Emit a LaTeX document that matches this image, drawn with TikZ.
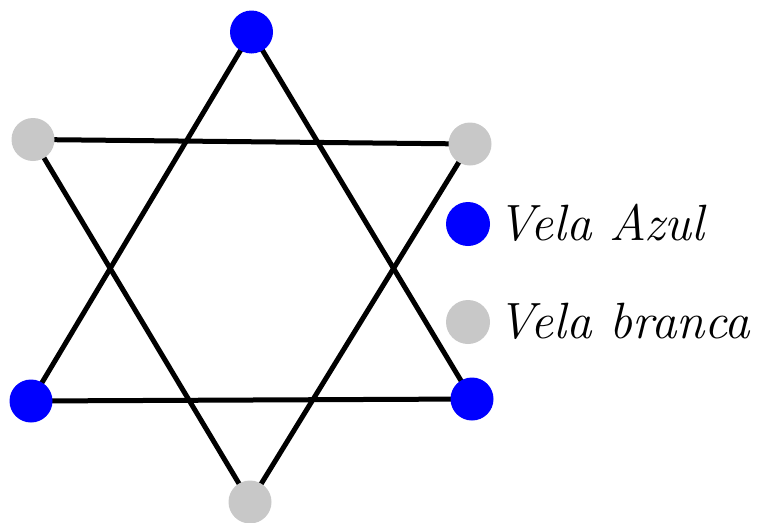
\documentclass[tikz,border=0pt]{standalone}
\definecolor{velablue}{RGB}{0,0,255}
\definecolor{velagray}{RGB}{200,200,200}
\begin{document}
\begin{tikzpicture}[x=1pt,y=-1pt,
  dot/.style={circle,inner sep=0pt,minimum size=43pt},
  bluedot/.style={dot,fill=velablue},
  graydot/.style={dot,fill=velagray},
  edge/.style={line width=5pt,black},
  legend/.style={anchor=base west,inner sep=0pt,font=\fontsize{51}{58}\selectfont\itshape}]
\useasboundingbox (0,0) rectangle (759,522);
\coordinate (t) at (251.5,32);
\coordinate (bl) at (31,401);
\coordinate (br) at (472,399);
\coordinate (gl) at (33,139.5);
\coordinate (gr) at (470,144);
\coordinate (gb) at (250,502);
\draw[edge] (t) -- (bl) -- (br) -- cycle;
\draw[edge] (gl) -- (gr) -- (gb) -- cycle;
\node[bluedot] (nt) at (t) {};
\node[bluedot] (nbl) at (bl) {};
\node[bluedot] (nbr) at (br) {};
\node[graydot] (ngl) at (gl) {};
\node[graydot] (ngr) at (gr) {};
\node[graydot] (ngb) at (gb) {};
\node[bluedot,minimum size=44pt] (lb) at (468,224) {};
\node[graydot,minimum size=44pt] (lg) at (468,322) {};
\node[legend] (tb) at (497,240) {Vela Azul};
\node[legend] (tg) at (497,338) {Vela branca};
\end{tikzpicture}
\end{document}
